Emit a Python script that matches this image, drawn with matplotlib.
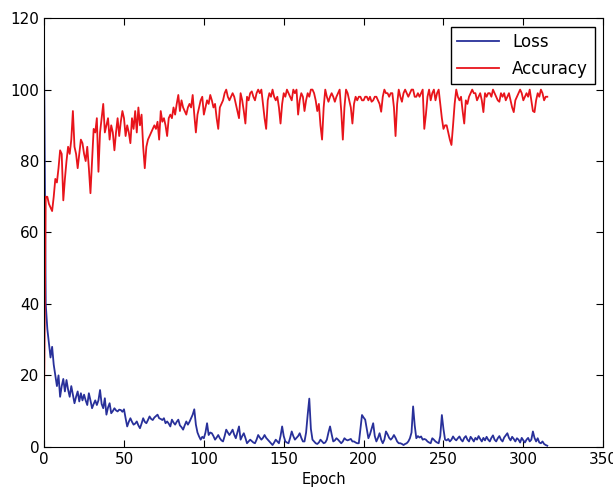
import numpy as np
import matplotlib
matplotlib.use("Agg")
import matplotlib.pyplot as plt

# per-epoch values (epochs 0..315)
loss = [
    106, 40, 33, 29, 25, 28, 23, 20, 17, 20,
    14, 17, 19, 15.5, 18.7, 16, 14, 17, 14.6, 12.2,
    14, 15.5, 12.7, 15, 13, 14.6, 13, 11.7, 15, 13,
    10.8, 12, 13, 11.7, 13, 15.9, 12, 10.8, 13.6, 9,
    11, 12.2, 9.4, 10, 10.8, 10.2, 9.9, 10.4, 10.3, 9.8,
    10.5, 8, 5.7, 7, 8, 7, 6.2, 6.5, 7.1, 6,
    5.2, 6.5, 8, 7, 6.6, 7.5, 8.5, 7.8, 7.5, 8.2,
    8.6, 9, 8, 7.8, 7.5, 8, 6.6, 7.1, 6.5, 5.7,
    7.6, 6.8, 6.2, 7, 7.6, 6, 5.5, 4.8, 6, 7.1,
    6.2, 7, 8, 9, 10.5, 6.2, 4, 2.9, 2, 2.8,
    2.4, 4, 6.6, 3.3, 4, 3.8, 3, 2, 2.6, 3.3,
    2.4, 1.8, 1.5, 3, 4.8, 4, 3.3, 4, 4.8, 3.4,
    2.4, 4, 5.7, 2, 3, 3.8, 2.5, 1, 1.5, 2,
    1.6, 1.2, 1, 2, 3.3, 2.6, 2, 2.5, 3.3, 2.5,
    2, 1.5, 1, 0.5, 1.2, 2, 1.5, 1, 3, 5.7,
    3, 1.5, 1.2, 1, 2.5, 4.3, 3, 2, 2.5, 3,
    3.8, 2.5, 1.5, 1.5, 4, 9, 13.5, 5, 2, 1.5,
    1, 0.8, 1.2, 2, 1.5, 1, 1.2, 2, 4, 5.7,
    3.5, 1.5, 1.8, 2.4, 2, 1.5, 1, 1.5, 2.4, 2,
    1.8, 2, 2.2, 1.5, 1.5, 1.2, 1, 1, 5, 8.9,
    8.2, 7.6, 5, 2.4, 3.5, 5, 6.6, 3, 1.5, 2.5,
    3.8, 2, 1, 2, 4.3, 3.5, 2.5, 2, 2.5, 3.3,
    2.5, 1.5, 1, 1, 0.8, 0.5, 0.8, 1, 1.5, 2.4,
    4, 11.3, 6, 2.4, 3, 2.6, 2.9, 2, 2.2, 2,
    1.5, 1.2, 1, 2.4, 2, 1.5, 1.2, 1, 3, 8.9,
    5, 2, 1.8, 2.2, 1.5, 2, 2.9, 2.2, 1.8, 2.4,
    2.9, 2, 1.5, 2.5, 3, 2, 1.5, 2.8, 2.2, 1.5,
    2.5, 2, 3, 2.2, 1.5, 2.5, 1.8, 2.8, 2, 1.5,
    2.5, 3.2, 2, 1.5, 2.4, 3, 2, 1.5, 2.6, 3.2,
    3.8, 2.5, 1.8, 2.8, 2.2, 1.5, 2.4, 2, 1.2, 2.5,
    1.8, 1.2, 2, 2.5, 1.5, 2, 4.3, 2.5, 1.5, 2.4,
    1.2, 1, 1.5, 0.8, 0.5, 0.3,
]

accuracy = [
    16, 70, 70, 68, 67, 66, 70, 75, 74, 78,
    83, 82, 69, 75, 80, 84, 82, 86, 94, 84,
    82, 78, 82, 86, 85, 82, 80, 84, 78, 71,
    80, 89, 88, 92, 77, 88, 92, 96, 88, 90,
    92, 86, 90, 88, 83, 88, 92, 87, 91, 94,
    92, 87, 90, 88, 85, 92, 89, 94, 88, 95,
    90, 93, 84, 78, 84, 86, 87, 88, 89, 90,
    89, 91, 86, 94, 91, 92, 90, 87, 92, 93,
    92, 95, 93, 96, 98.5, 94, 97, 95, 94, 93,
    95, 96, 95, 98.5, 93, 88, 93, 95, 97, 98,
    93, 95, 97, 96, 98.5, 97, 95, 96, 92, 89,
    95, 96, 97, 99, 100, 98, 97, 98, 99, 98,
    96, 94, 92, 99, 97, 94, 90.5, 98, 97, 99,
    99.5, 98, 97, 99, 100, 99, 100, 96, 92, 89,
    97, 99, 98, 100, 98, 97, 98, 95, 90.5, 96,
    99, 98, 100, 99, 98, 97, 100, 99, 100, 93,
    97, 99, 98, 94, 97, 99, 98, 100, 100, 99,
    97, 94, 96, 90, 86, 95, 100, 98, 96.6, 98,
    99, 98, 96.6, 98, 99, 100, 94, 86, 95, 100,
    99, 97, 95, 90.5, 96, 98, 97, 98, 98, 97,
    97, 98, 98, 97, 98, 96.6, 97, 98, 98, 97,
    96, 93.8, 98, 100, 99, 99, 98, 99, 99, 95,
    87, 96, 100, 98, 96.6, 99, 100, 99, 98, 99,
    100, 100, 98, 98, 99, 98, 99, 100, 89, 93,
    98, 100, 97, 99, 100, 97, 99, 100, 96, 92,
    89, 90, 90, 88, 86, 84.5, 90, 96, 100, 98,
    97, 98, 94, 90.5, 97, 96, 98, 99, 100, 99,
    99, 97, 98, 99, 97, 93.7, 99, 98, 99, 99,
    98, 100, 99, 98, 97, 96.6, 99, 98, 99, 97,
    98, 99, 97, 95, 93.7, 97, 98, 99, 100, 99,
    97, 98, 99, 98, 100, 97, 94, 93.7, 97, 99,
    98, 100, 99, 97, 98, 98,
]

epochs = np.arange(len(loss))

fig = plt.figure(figsize=(6.13, 4.91), dpi=100)
ax = fig.add_axes([0.072, 0.09, 0.912, 0.873])

ax.plot(epochs, loss, color="#28309a", lw=1.3, label="Loss")
ax.plot(epochs, accuracy, color="#e8141b", lw=1.3, label="Accuracy")

ax.set_xlim(0, 350)
ax.set_ylim(0, 120)
ax.set_xticks(range(0, 351, 50))
ax.set_yticks(range(0, 121, 20))
ax.tick_params(direction="in", top=True, right=True, length=5, labelsize=11)
ax.set_xlabel("Epoch", fontsize=10.5, labelpad=4)

leg = ax.legend(loc="upper right", fontsize=12, fancybox=False, framealpha=1,
                edgecolor="black", handlelength=2.5, borderaxespad=0.5)
leg.get_frame().set_linewidth(1.0)

fig.savefig("out.png", dpi=100)
